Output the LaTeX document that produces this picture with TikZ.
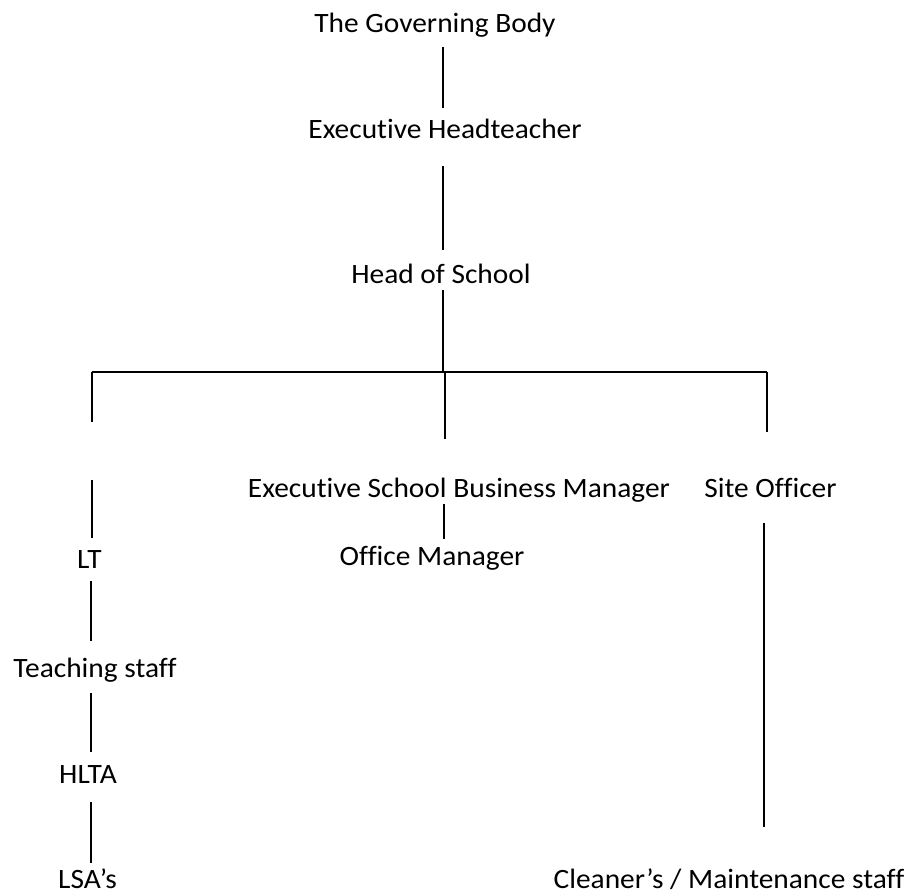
\documentclass[tikz,border=0pt]{standalone}
\usepackage{fontspec}
\setmainfont{Carlito}[FakeStretch=1.05,Ligatures={NoCommon}]
\begin{document}
\begin{tikzpicture}[x=1pt,y=-1pt,
  lbl/.style={anchor=base,inner sep=0pt,font=\fontsize{28}{33}\selectfont},
  conn/.style={line width=1.2pt},
  bar/.style={line width=2pt}]
\useasboundingbox[fill=white] (0,0) rectangle (906,894);
% labels
\node[lbl] (gb)   at (435,32)  {The Governing Body};
\node[lbl] (eh)   at (445,138) {Executive Headteacher};
\node[lbl] (hos)  at (441,283) {Head of School};
\node[lbl] (esbm) at (459,497) {Executive School Business Manager};
\node[lbl] (so)   at (770.5,497) {Site Officer};
\node[lbl] (lt)   at (89.5,568) {LT};
\node[lbl] (om)   at (432,565) {Office Manager};
\node[lbl] (ts)   at (95,677)  {Teaching staff};
\node[lbl] (hlta) at (88,783)  {HLTA};
\node[lbl] (lsa)  at (87.5,888) {LSA’s};
\node[lbl] (cl)   at (729,888) {Cleaner’s / Maintenance staff};
% connector end points
\coordinate (a1) at (443,47);  \coordinate (a2) at (443,108);
\coordinate (b1) at (443,166); \coordinate (b2) at (443,250);
\coordinate (c1) at (443,290); \coordinate (c2) at (443,372);
\coordinate (hl) at (92,372);  \coordinate (hr) at (767,372);
\coordinate (l1) at (92,422);
\coordinate (m0) at (445,372); \coordinate (m1) at (445,439);
\coordinate (r1) at (767,432);
\coordinate (d1) at (92,480);  \coordinate (d2) at (92,538);
\coordinate (e1) at (444,504); \coordinate (e2) at (444,539);
\coordinate (f1) at (91,581);  \coordinate (f2) at (91,641);
\coordinate (g1) at (91,693);  \coordinate (g2) at (91,752);
\coordinate (h1) at (91,802);  \coordinate (h2) at (91,863);
\coordinate (s1) at (764,523); \coordinate (s2) at (764,827);
% connectors
\draw[conn] (a1) -- (a2);
\draw[conn] (b1) -- (b2);
\draw[conn] (c1) -- (c2);
\draw[bar] (hl) -- (hr);
\draw[conn] (hl) -- (l1);
\draw[conn,line width=1.5pt] (m0) -- (m1);
\draw[conn] (hr) -- (r1);
\draw[conn] (d1) -- (d2);
\draw[conn] (e1) -- (e2);
\draw[conn] (f1) -- (f2);
\draw[conn] (g1) -- (g2);
\draw[conn] (h1) -- (h2);
\draw[conn] (s1) -- (s2);
\end{tikzpicture}
\end{document}
